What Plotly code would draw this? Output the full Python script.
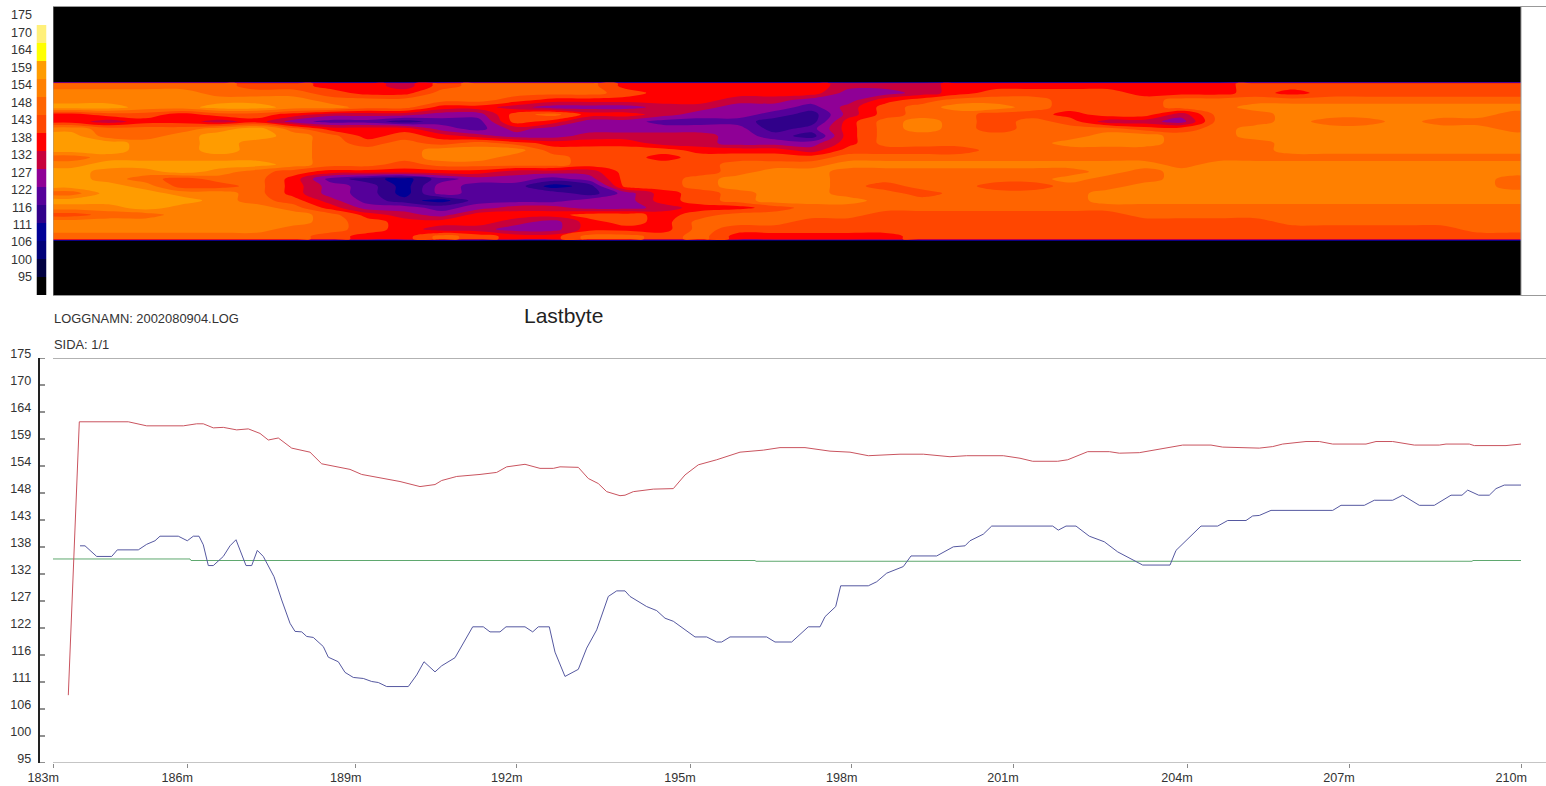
import plotly.graph_objects as go

W, H = 1546, 786

# ---------- lower chart data ----------
tick_pos = [53.3, 187.3, 355.7, 516.7, 690, 851.7, 1013, 1187, 1349, 1521.3]
tick_lab = ["183m", "186m", "189m", "192m", "195m", "198m", "201m", "204m", "207m", "210m"]
y_lab = [175, 170, 164, 159, 154, 148, 143, 138, 132, 127, 122, 116, 111, 106, 100, 95]
y_val = [175, 169.67, 164.33, 159, 153.67, 148.33, 143, 137.67, 132.33, 127, 121.67, 116.33, 111, 105.67, 100.33, 95]

red_pos = [68.3, 79.3, 128.3, 136.7, 146.7, 183.3, 196.7, 203.3, 213.3, 223.3, 236.7, 248.3, 260, 268.3, 278.3, 291.7,
           310, 321.7, 350, 361.7, 400, 420, 435, 441.7, 456.7, 480, 496.7, 506.7, 525, 540, 553.3, 560, 578.3, 588.3,
           598.3, 606.7, 620, 625, 633.3, 653.3, 673.3, 685, 698.3, 716.7, 740, 763.3, 780, 805, 830, 850, 868.3, 900,
           923.3, 950, 966.7, 1003.3, 1020, 1032.7, 1057.7, 1067.7, 1087.7, 1109.3, 1119.3, 1139.3, 1152.7, 1172.7,
           1182.7, 1211, 1222.7, 1259.3, 1272.7, 1282.7, 1306, 1319.3, 1332.7, 1366, 1376, 1392.7, 1414.3, 1439.3,
           1446, 1469.3, 1474.3, 1506, 1521]
red_val = [108.4, 162.4, 162.4, 162.1, 161.6, 161.6, 162.0, 162.0, 161.2, 161.3, 160.8, 161.0, 160.1, 158.8, 159.2, 157.2,
           156.4, 154.1, 153, 152, 150.6, 149.6, 150.0, 150.8, 151.6, 152, 152.4, 153.5, 154.0, 153.2, 153.2, 153.5, 153.4, 151.2,
           150.2, 148.6, 147.8, 147.9, 148.6, 149.1, 149.2, 151.9, 153.9, 154.9, 156.4, 156.8, 157.3, 157.3, 156.6, 156.4, 155.7, 156.0,
           156.0, 155.5, 155.7, 155.7, 155.2, 154.6, 154.6, 154.9, 156.5, 156.5, 156.2, 156.3, 156.8, 157.4,
           157.8, 157.8, 157.4, 157.2, 157.5, 158, 158.5, 158.5, 158, 158, 158.5, 158.5, 157.8, 157.8,
           158, 158, 157.7, 157.7, 158]

blue_pos = [80, 85, 96.7, 111.7, 117.3, 138.3, 146.7, 155, 160, 178.3, 187.3, 193.3, 199, 203.3, 208.3, 213.3, 223.3, 230, 236,
            246, 251.7, 257.3, 263.3, 274, 281.7, 290, 295, 301.7, 306.7, 313.3, 323.3, 328.3, 338.3, 345, 353.3, 363.3,
            371.7, 378.3, 386.7, 408.3, 416.7, 424, 435, 441.7, 455, 463.3, 472.7, 483.3, 490, 500, 506, 525, 532.7, 538.3,
            549.3, 555, 565, 578.3, 586.7, 596.7, 608.3, 616.7, 625, 630, 646.7, 656.7, 665, 673.3, 695, 706.7, 716.7, 721.7,
            730, 766.7, 775, 791.7, 808.3, 820, 825, 835.7, 840.7, 868.3, 876.7, 886.7, 903.3, 911, 936.7, 953.3, 965, 970,
            983.3, 991.7, 1052.7, 1058.3, 1066, 1076, 1089.3, 1104.3, 1117.7, 1142.7, 1170, 1176, 1201, 1217.7, 1227.7, 1246,
            1252.7, 1259.3, 1271, 1332.7, 1341, 1364.3, 1374.3, 1392.7, 1402.7, 1419.3, 1434.3, 1451, 1462, 1467.7, 1478.7,
            1489.3, 1496, 1504.3, 1521]
blue_val = [137.9, 137.9, 135.8, 135.8, 137.1, 137.1, 138.2, 138.9, 139.8, 139.8, 138.9, 139.8, 139.8, 138.1, 134, 134, 135.8, 137.9, 139.1,
            134, 134, 137, 135.8, 131.8, 127.2, 122.6, 121, 120.9, 120, 119.8, 118, 115.9, 115, 112.9, 111.9, 111.7,
            111.1, 110.9, 110.1, 110.1, 112.4, 115, 113, 114.2, 115.8, 118.6, 121.9, 121.9, 120.9, 120.9, 121.9, 121.9, 120.9, 121.9,
            121.9, 116.9, 112.1, 113.5, 117.7, 121.3, 127.9, 129, 129, 127.9, 125.9, 125.1, 123.6, 123, 119.9, 119.9, 118.9, 118.9,
            119.9, 119.9, 118.9, 118.9, 121.9, 121.9, 123.9, 125.9, 130, 130, 130.8, 132.5, 133.8, 135.9, 135.9, 137.7, 137.9, 138.9,
            140.2, 141.8, 141.8, 141, 141.8, 141.8, 139.8, 138.7, 136.7, 134.1, 134.1, 137, 141.8, 141.8, 142.9, 142.9,
            143.8, 143.9, 144.9, 144.9, 145.9, 145.9, 146.9, 146.9, 147.9, 145.9, 145.9, 147.9, 147.9, 148.9, 147.9,
            147.9, 149.2, 149.9, 149.9]

green_pos = [53, 190, 191, 755, 756, 1472, 1473, 1521]
green_val = [135.3, 135.3, 135.0, 135.0, 134.85, 134.85, 135.0, 135.0]

# ---------- upper panel data (classes of the legend) ----------
legend_lab = [170, 164, 159, 154, 148, 143, 138, 132, 127, 122, 116, 111, 106, 100, 95]
legend_col = ["#FFF07A", "#FFFF00", "#FF9C00", "#FF8000", "#FF6400", "#FF4600", "#FF0000", "#C8003C",
              "#8F0096", "#55009A", "#30008A", "#000096", "#000078", "#000040", "#000000"]

A, B, C, D, E, F, G, H_, I, J, K = 159, 154, 148, 143, 138, 132, 127, 122, 116, 111, 95

band_x = [53] + [71.5 + 37 * k for k in range(40)] + [1521]
band_rows_y = [153.4 - 2.19 * i for i in range(22)]
band = [
    [C,C,C,C,C,D,D,E,E,F, D,C,C,C,C,E,E,E,E,E, E,F,F,F,E,E,E,E,E,E, E,E,D,D,D,D,D,D,D,D],
    [B,B,B,B,C,C,C,D,E,E, C,C,C,C,C,D,E,E,E,E, E,G,G,F,E,D,D,D,D,E, E,E,D,E,D,D,D,D,D,D],
    [B,B,B,B,B,B,B,C,C,C, C,C,D,E,E,E,E,E,F,F, G,G,E,D,C,C,C,D,D,D, C,C,C,C,C,C,C,C,C,C],
    [A,A,B,B,A,A,B,B,C,C, E,E,F,G,G,G,F,F,G,G, H_,F,D,C,B,B,C,D,D,D, C,C,B,B,B,B,B,B,B,B],
    [E,D,D,E,D,D,E,F,F,F, G,G,D,C,E,E,F,G,G,H_, I,F,D,C,C,D,D,E,D,D, F,C,C,B,B,B,B,B,B,C],
    [E,F,E,E,F,E,G,H_,H_,I, H_,H_,D,E,G,G,H_,H_,H_,I, I,E,C,B,C,D,C,D,F,F, G,C,C,B,C,C,B,C,C,C],
    [B,C,C,C,B,A,C,E,E,E, G,H_,F,G,G,G,G,G,G,I, H_,E,C,B,C,D,C,C,C,D, D,C,B,B,B,B,B,B,B,C],
    [A,C,C,B,A,A,B,C,E,D, E,F,G,G,F,F,F,F,G,H_, I,E,C,C,C,C,C,C,B,B, C,C,B,B,B,B,B,B,B,B],
    [A,A,B,B,A,B,B,C,D,C, D,C,D,E,E,E,F,F,G,G, G,E,C,C,C,C,C,B,B,B, C,C,C,B,B,B,B,B,B,B],
    [A,A,B,B,A,B,B,C,C,C, B,B,B,D,D,D,D,E,E,E, F,D,D,D,D,C,C,C,C,C, C,C,C,B,B,B,B,B,B,B],
    [C,B,B,B,B,B,B,C,C,C, B,B,C,C,D,D,E,D,D,D, D,C,C,C,C,C,C,C,C,C, C,C,C,C,C,C,C,C,C,C],
    [B,A,A,A,A,A,B,C,C,D, C,C,C,C,D,D,D,D,C,C, C,B,B,B,B,B,B,B,B,B, C,B,B,B,B,B,B,B,B,B],
    [A,B,B,A,B,C,D,E,E,E, E,E,F,F,F,D,D,D,C,B, B,C,C,C,C,C,C,C,B,C, B,B,B,B,B,B,B,B,B,B],
    [A,B,C,D,C,C,E,H_,I,J, H_,G,G,H_,G,D,D,C,B,B, B,C,C,C,C,C,C,B,C,C, B,B,B,B,B,B,B,B,B,C],
    [A,A,B,D,D,C,E,G,H_,J, G,H_,H_,J,I,D,D,C,B,B, B,C,D,C,C,D,D,C,C,B, B,B,B,B,B,B,B,B,B,C],
    [C,A,A,B,B,C,E,G,H_,J, G,H_,H_,H_,I,G,E,D,C,B, B,C,C,D,C,C,C,C,B,B, B,B,B,B,B,B,B,B,B,B],
    [A,A,A,A,B,C,D,F,H_,I, J,H_,H_,H_,G,G,E,D,C,B, B,B,C,C,C,C,C,C,B,B, B,B,B,B,B,B,B,B,B,B],
    [B,B,A,B,B,B,C,E,G,G, H_,G,F,F,G,G,F,E,E,D, C,C,C,C,C,C,C,C,C,C, C,C,C,C,C,C,C,C,C,C],
    [D,C,C,B,B,B,B,C,E,F, G,E,E,E,D,D,E,D,C,C, C,C,D,D,D,D,D,D,D,C, C,C,C,C,C,C,C,C,C,C],
    [B,B,B,B,B,B,B,C,D,E, E,E,F,G,E,D,E,C,C,C, D,D,D,D,D,D,D,D,D,D, D,D,D,C,C,C,C,C,C,C],
    [B,B,B,B,B,B,C,C,D,E, F,F,G,G,E,E,E,C,D,D, D,D,D,D,D,D,D,D,D,D, D,D,D,D,D,D,D,D,C,C],
    [C,C,C,C,C,C,C,D,E,E, C,D,E,E,C,C,D,C,E,E, E,E,E,D,D,D,D,D,D,D, D,D,D,D,D,D,D,D,D,D],
]
black_row = [K] * 40
panel_y = [177.44, 154.6, 154.1] + band_rows_y + [106.6, 106.0, 89.5]
panel_z = [black_row, black_row, band[0]] + band + [band[-1], black_row, black_row]
panel_z = [[r[0]] + r + [r[-1]] for r in panel_z]

# ---------- stepped colour scale built from the legend ----------
asc_col = legend_col[::-1]
n = len(asc_col)
cs = []
for i, c in enumerate(asc_col):
    cs += [[i / n, c], [(i + 1) / n, c]]
zmin, zmax = 92.33, 172.33
step = (zmax - zmin) / n

FONT = "Liberation Sans"
TXT = "#333333"
fig = go.Figure()

fig.add_trace(go.Contour(x=band_x, y=panel_y, z=panel_z, colorscale=cs, zmin=zmin, zmax=zmax, autocontour=False,
                         contours=dict(start=zmin + step, end=zmax - step, size=step, coloring="fill", showlines=False),
                         line=dict(width=0, smoothing=1.0), showscale=False, xaxis="x2", yaxis="y2", hoverinfo="skip"))
fig.add_trace(go.Heatmap(x=[0], y=list(range(n)), z=[[v] for v in legend_lab[::-1]], colorscale=cs,
                         zmin=zmin, zmax=zmax, showscale=False, xaxis="x3", yaxis="y3", hoverinfo="skip"))

fig.add_trace(go.Scatter(x=green_pos, y=green_val, mode="lines", line=dict(color="#5FA86F", width=1), showlegend=False))
fig.add_trace(go.Scatter(x=red_pos, y=red_val, mode="lines", line=dict(color="#C9545F", width=1), showlegend=False))
fig.add_trace(go.Scatter(x=blue_pos, y=blue_val, mode="lines", line=dict(color="#5558A0", width=1), showlegend=False))

def px(x): return x / W
def py(y): return 1 - y / H

y_tick_marks = [dict(type="line", xref="x", yref="y", x0=39.5, x1=45, y0=v, y1=v, layer="above",
                     line=dict(color="#222222", width=1.2)) for v in y_val]

fig.update_layout(
    width=W, height=H, margin=dict(l=0, r=0, t=0, b=0, autoexpand=False), paper_bgcolor="white", plot_bgcolor="white",
    showlegend=False, font=dict(family=FONT, size=12.6, color=TXT),
    xaxis=dict(automargin=False, domain=[px(39.5), 1], range=[39.5, W], tickmode="array", tickvals=tick_pos, ticktext=tick_lab,
               showgrid=False, zeroline=False, showline=False,
               ticks="outside", ticklen=4, tickcolor="#8A8A8A", ticklabelshift=-10, ticklabelstandoff=-1),
    yaxis=dict(automargin=False, domain=[py(763), py(358)], range=[95, 175], tickmode="array", tickvals=y_val,
               ticktext=[str(v) for v in y_lab], showgrid=False, zeroline=False,
               showline=True, linecolor="#222222", linewidth=1.5, ticks="",
               ticklabelshift=-4, ticklabelstandoff=4),
    xaxis2=dict(automargin=False, domain=[px(53), 1], range=[53, W], anchor="y2", showticklabels=False, ticks="", showgrid=False,
                zeroline=False, showline=True, linecolor="#999999", linewidth=1, mirror=True),
    yaxis2=dict(automargin=False, domain=[py(295), py(7)], range=[89.5, 177.44], anchor="free", position=px(32), tickmode="array",
                tickvals=y_val, ticktext=[str(v) for v in y_lab], showgrid=False, zeroline=False, ticks="",
                showline=False),
    xaxis3=dict(automargin=False, domain=[px(36.5), px(46.5)], range=[-0.5, 0.5], anchor="y3", visible=False),
    yaxis3=dict(automargin=False, domain=[py(295), py(25)], range=[-0.5, n - 0.5], anchor="x3", visible=False),
    shapes=[
        dict(type="line", xref="x2", yref="y2", x0=53, x1=53, y0=89.5, y1=177.44, line=dict(color="#999999", width=1)),
        dict(type="line", xref="x2", yref="y2", x0=1521, x1=1521, y0=89.5, y1=177.44, line=dict(color="#999999", width=1)),
        dict(type="line", xref="x", yref="y", x0=53, x1=W, y0=95, y1=95, line=dict(color="#8A8A8A", width=1)),
        dict(type="line", xref="x", yref="y", x0=53, x1=W, y0=175, y1=175, line=dict(color="#666666", width=1)),
    ] + y_tick_marks,
    annotations=[
        dict(text="LOGGNAMN: 2002080904.LOG", xref="paper", yref="paper", x=px(51.5), y=py(318), xanchor="left",
             yanchor="middle", showarrow=False, font=dict(size=12.9, color=TXT, family=FONT)),
        dict(text="SIDA: 1/1", xref="paper", yref="paper", x=px(51.5), y=py(344), xanchor="left",
             yanchor="middle", showarrow=False, font=dict(size=12.9, color=TXT, family=FONT)),
        dict(text="Lastbyte", xref="paper", yref="paper", x=px(522), y=py(316), xanchor="left",
             yanchor="middle", showarrow=False, font=dict(size=21, color="#222222", family=FONT)),
    ],
)

fig.write_html("out.html", config=dict(displayModeBar=False),
               post_script="document.body.style.margin='0';document.documentElement.style.overflow='hidden';")
